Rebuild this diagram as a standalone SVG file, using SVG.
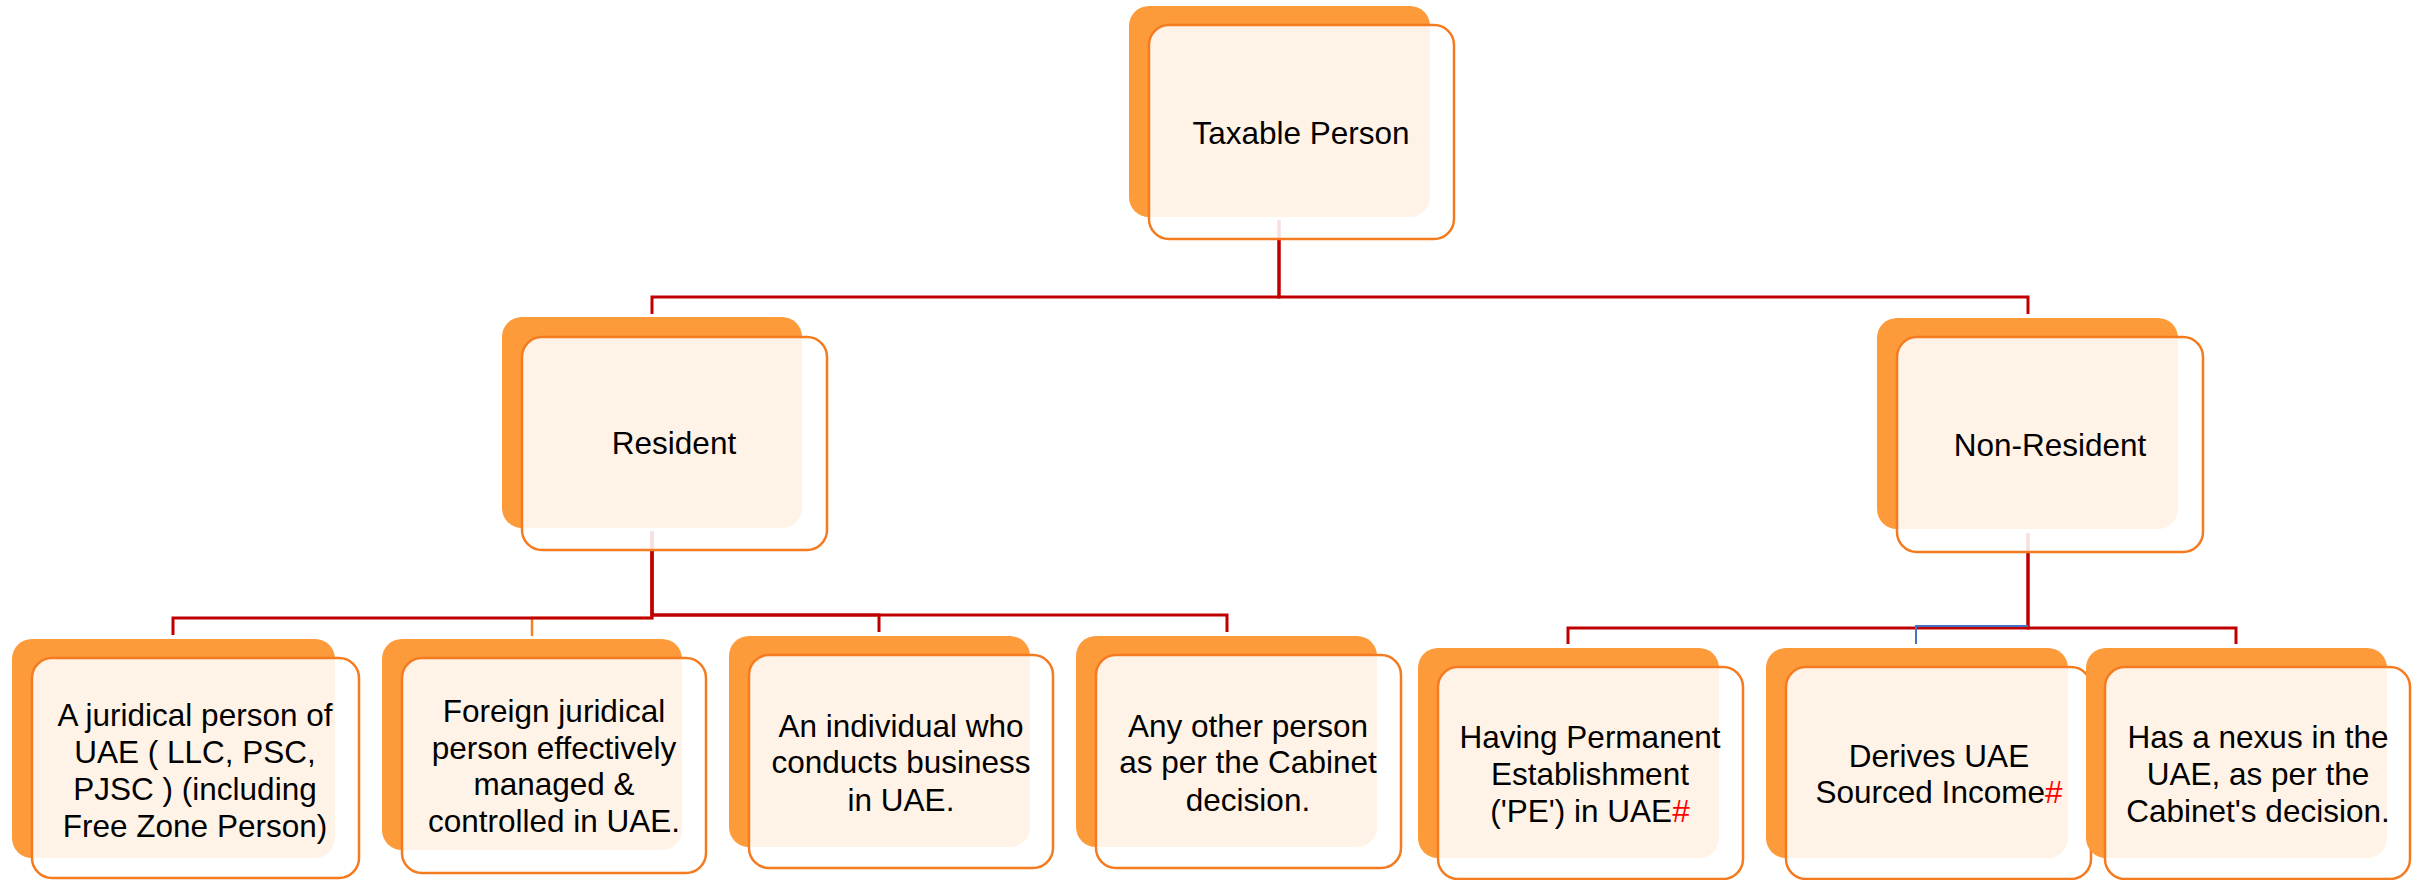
<svg xmlns="http://www.w3.org/2000/svg" width="2417" height="880" viewBox="0 0 2417 880">
<style>
.back{fill:#FD9A3A}
.front{fill:#FFFFFF;fill-opacity:0.88;stroke:#F47B20;stroke-width:2.5}
.t{font-family:"Liberation Sans",Arial,sans-serif;font-size:31.5px;fill:#000000;text-anchor:middle}
.hash{fill:#FF0000}
.conn{fill:none;stroke:#C00000;stroke-width:3}
.conn-o{fill:none;stroke:#F4812A;stroke-width:2.5}
.conn-b{fill:none;stroke:#4472C4;stroke-width:2}
</style>
<rect width="2417" height="880" fill="#FFFFFF"/>
<g id="connectors">
  <path class="conn" d="M1279,220 V297 H652 V314"/>
  <path class="conn" d="M1279,220 V297 H2028 V314"/>
  <path class="conn-o" d="M652,531 V618 H532 V636"/>
  <path class="conn" d="M652,531 V618 H173 V635"/>
  <path class="conn" d="M652,531 V615 H879 V632"/>
  <path class="conn" d="M652,531 V615 H1227 V632"/>
  <path class="conn" d="M2028,533 V628 H1568 V644"/>
  <path class="conn" d="M2028,533 V628 H2236 V644"/>
  <path class="conn-b" d="M2028,626 H1916 V644"/>
</g>
<g id="taxable-person">
  <rect class="back" x="1129" y="6" width="301" height="211" rx="20"/>
  <rect class="front" x="1149" y="25" width="305" height="214" rx="20"/>
  <text class="t" x="1301" y="144">Taxable Person</text>
</g>
<g id="resident">
  <rect class="back" x="502" y="317" width="300" height="211" rx="20"/>
  <rect class="front" x="522" y="337" width="305" height="213" rx="20"/>
  <text class="t" x="674" y="454">Resident</text>
</g>
<g id="non-resident">
  <rect class="back" x="1877" y="318" width="301" height="211" rx="20"/>
  <rect class="front" x="1897" y="337" width="306" height="215" rx="20"/>
  <text class="t" x="2050" y="456">Non-Resident</text>
</g>
<g id="juridical-person">
  <rect class="back" x="12" y="639" width="323" height="219" rx="20"/>
  <rect class="front" x="32" y="658" width="327" height="220" rx="20"/>
  <text class="t" x="195" y="726">A juridical person of</text>
  <text class="t" x="195" y="763">UAE ( LLC, PSC,</text>
  <text class="t" x="195" y="800">PJSC ) (including</text>
  <text class="t" x="195" y="837">Free Zone Person)</text>
</g>
<g id="foreign-juridical">
  <rect class="back" x="382" y="639" width="300" height="211" rx="20"/>
  <rect class="front" x="402" y="658" width="304" height="215" rx="20"/>
  <text class="t" x="554" y="722">Foreign juridical</text>
  <text class="t" x="554" y="759">person effectively</text>
  <text class="t" x="554" y="795">managed &amp;</text>
  <text class="t" x="554" y="832">controlled in UAE.</text>
</g>
<g id="individual">
  <rect class="back" x="729" y="636" width="301" height="211" rx="20"/>
  <rect class="front" x="749" y="655" width="304" height="213" rx="20"/>
  <text class="t" x="901" y="737">An individual who</text>
  <text class="t" x="901" y="773">conducts business</text>
  <text class="t" x="901" y="811">in UAE.</text>
</g>
<g id="other-person">
  <rect class="back" x="1076" y="636" width="301" height="211" rx="20"/>
  <rect class="front" x="1096" y="655" width="305" height="213" rx="20"/>
  <text class="t" x="1248" y="737">Any other person</text>
  <text class="t" x="1248" y="773">as per the Cabinet</text>
  <text class="t" x="1248" y="811">decision.</text>
</g>
<g id="permanent-establishment">
  <rect class="back" x="1418" y="648" width="301" height="210" rx="20"/>
  <rect class="front" x="1438" y="667" width="305" height="212" rx="20"/>
  <text class="t" x="1590" y="748">Having Permanent</text>
  <text class="t" x="1590" y="785">Establishment</text>
  <text class="t" x="1590" y="822">('PE') in UAE<tspan class="hash">#</tspan></text>
</g>
<g id="sourced-income">
  <rect class="back" x="1766" y="648" width="302" height="210" rx="20"/>
  <rect class="front" x="1786" y="667" width="305" height="212" rx="20"/>
  <text class="t" x="1939" y="767">Derives UAE</text>
  <text class="t" x="1939" y="803">Sourced Income<tspan class="hash">#</tspan></text>
</g>
<g id="nexus">
  <rect class="back" x="2086" y="648" width="301" height="210" rx="20"/>
  <rect class="front" x="2105" y="667" width="305" height="212" rx="20"/>
  <text class="t" x="2258" y="748">Has a nexus in the</text>
  <text class="t" x="2258" y="785">UAE, as per the</text>
  <text class="t" x="2258" y="822">Cabinet's decision.</text>
</g>
</svg>
